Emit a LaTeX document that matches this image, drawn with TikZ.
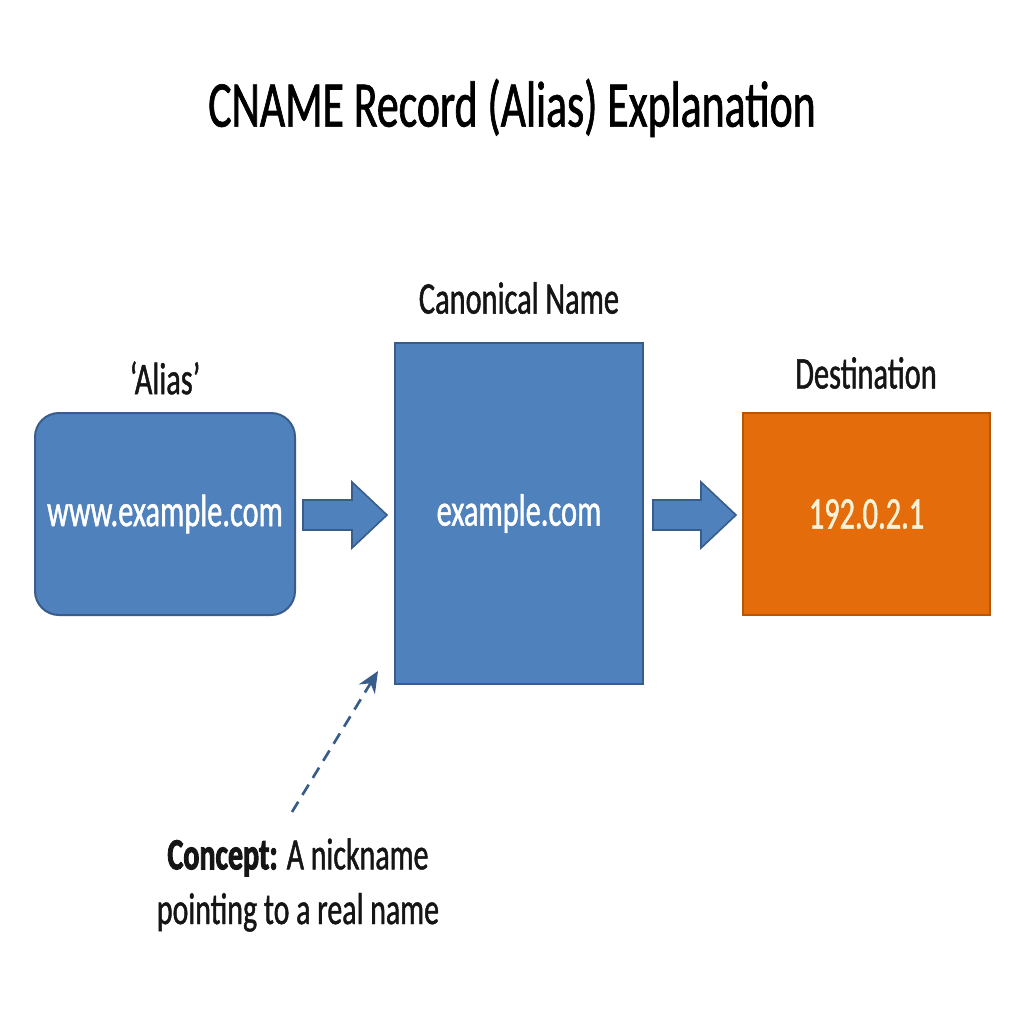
\documentclass[tikz,border=0pt]{standalone}
\usepackage{fontspec}
\setmainfont{Carlito}[FakeStretch=0.67,UprightFeatures={FakeBold=1.0},BoldFeatures={FakeBold=2.0}]
\usetikzlibrary{calc,arrows.meta}
\definecolor{bluefill}{HTML}{4F81BD}
\definecolor{blueedge}{HTML}{385D8A}
\definecolor{orangefill}{HTML}{E46C0A}
\definecolor{orangeedge}{HTML}{B65708}
\definecolor{txtcol}{HTML}{151515}
\definecolor{creamtxt}{HTML}{F8F2D8}
\tikzset{
  bluebox/.style={draw=blueedge, line width=1.5pt, fill=bluefill, text=white, inner sep=0pt},
  orangebox/.style={draw=orangeedge, line width=1.5pt, fill=orangefill, text=creamtxt, inner sep=0pt},
  lbl/.style={text=txtcol, font=\fontsize{34}{38}\selectfont},
  intxt/.style={font=\fontsize{34}{38}\selectfont},
  blockarrow/.style={draw=blueedge, line width=1.2pt, fill=bluefill},
}
\begin{document}
\begin{tikzpicture}[x=0.75pt,y=-0.75pt]
\useasboundingbox (0,0) rectangle (1024,1024);
\fill[white] (0,0) rectangle (1024,1024);
\node[text=black, font=\fontsize{49}{54}\selectfont] (title) at (512,108) {CNAME Record (Alias) Explanation};
\node[bluebox, rounded corners=18pt, minimum width=195pt, minimum height=151.5pt, intxt] (alias) at (165,514) {www.example.com};
\node[bluebox, minimum width=186pt, minimum height=255.75pt, intxt] (canon) at (519,513.5) {example.com};
\node[orangebox, minimum width=185.25pt, minimum height=151.5pt, intxt] (dest) at (866.5,514) {192.0.2.1};
\node[lbl] (laliasl) at (165,378) {‘Alias’};
\node[lbl] (lcanon) at (519,298) {Canonical Name};
\node[lbl] (ldest) at (866,373) {Destination};
% block arrows
\coordinate (a1s) at ($(alias.east)+(7,1)$);
\coordinate (a1e) at ($(canon.west)+(-7,1.5)$);
\draw[blockarrow] ($(a1s)+(0,-15)$) -- ($(a1e)+(-35,-15)$) -- ($(a1e)+(-35,-33)$) -- (a1e) -- ($(a1e)+(-35,33)$) -- ($(a1e)+(-35,15)$) -- ($(a1s)+(0,15)$) -- cycle;
\coordinate (a2s) at ($(canon.east)+(9,1.5)$);
\coordinate (a2e) at ($(dest.west)+(-6,1)$);
\draw[blockarrow] ($(a2s)+(0,-15)$) -- ($(a2e)+(-35,-15)$) -- ($(a2e)+(-35,-33)$) -- (a2e) -- ($(a2e)+(-35,33)$) -- ($(a2e)+(-35,15)$) -- ($(a2s)+(0,15)$) -- cycle;
% concept
\node[text=txtcol, align=center, font=\fontsize{33.5}{41}\selectfont] (concept) at (298,885) {\textbf{Concept:} A nickname\\pointing to a real name};
\coordinate (dstart) at (292,812);
\draw[blueedge, line width=2pt, dash pattern=on 9pt off 6pt, -{Stealth[length=16pt,width=14pt]}] (dstart) -- ($(canon.south west)+(-16,-14)$);
\end{tikzpicture}
\end{document}
